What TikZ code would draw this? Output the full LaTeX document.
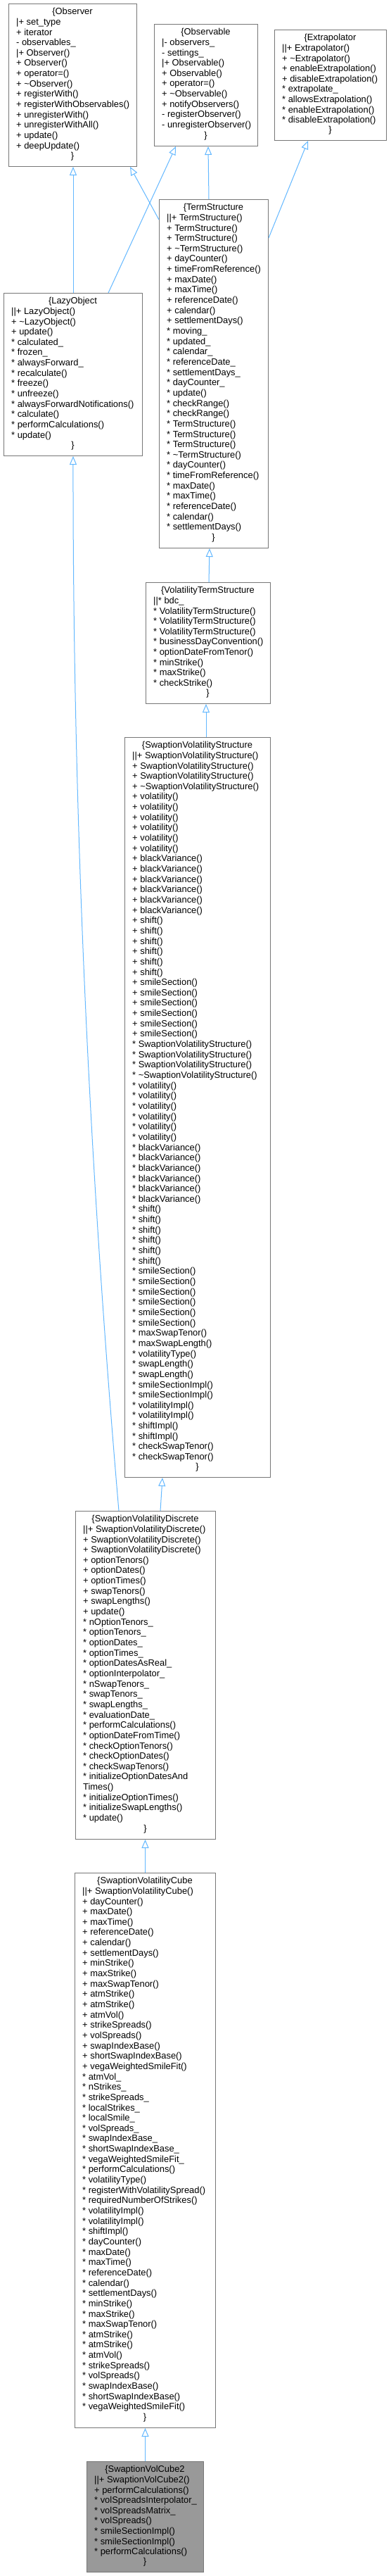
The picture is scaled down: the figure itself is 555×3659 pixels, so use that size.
\documentclass[tikz,border=0pt]{standalone}
\usepackage{fontspec}
\setmainfont{Liberation Sans}
\usetikzlibrary{arrows.meta,calc}
\definecolor{edgeblue}{HTML}{63B8FF}
\definecolor{boxgray}{HTML}{777777}
\definecolor{hlgray}{HTML}{999999}
\newcommand\clsfont{\fontsize{12.9}{14.65}\selectfont}
\newcommand\tld{\textasciitilde{}}
\tikzset{
  cbox/.style={draw=boxgray, line width=1pt, inner sep=0pt, anchor=north west},
  ctitle/.style={anchor=base, inner sep=0pt, font=\clsfont},
  cmem/.style={anchor=north west, inner sep=0pt, align=left, font=\clsfont},
  inh/.style={draw=edgeblue, line width=1pt, -{Triangle[open, length=12pt, width=10pt]}},
}
\newcommand\umlclass[8]{%
  \pgfmathsetmacro\umlw{#4-#2}\pgfmathsetmacro\umlh{#5-#3}%
  \pgfmathsetmacro\umlcx{(#2+#4)/2}%
  \node[cbox, fill=#6, minimum width=\umlw pt, minimum height=\umlh pt] (#1) at (#2,#3) {};
  \node[ctitle] (#1-title) at (\umlcx,#3+15.5) {\{#7};
  \node[cmem] (#1-members) at (#2+11,#3+19.15) {\rule{0pt}{11pt}#8};
  \node[ctitle] (#1-end) at (\umlcx,#5-10.35) {\}};
}
\begin{document}
\begin{tikzpicture}[x=1pt, y=-1pt]
\fill[white] (0,0) rectangle (555,3659);
\useasboundingbox (0,0) rectangle (555,3659);

\umlclass{observer}{12}{5}{194}{236}{white}{Observer}{%
|+ set\_type\\
+ iterator\\
- observables\_\\
|+ Observer()\\
+ Observer()\\
+ operator=()\\
+ \tld Observer()\\
+ registerWith()\\
+ registerWithObservables()\\
+ unregisterWith()\\
+ unregisterWithAll()\\
+ update()\\
+ deepUpdate()}

\umlclass{observable}{219}{34}{366}{207}{white}{Observable}{%
|- observers\_\\
- settings\_\\
|+ Observable()\\
+ Observable()\\
+ operator=()\\
+ \tld Observable()\\
+ notifyObservers()\\
- registerObserver()\\
- unregisterObserver()}

\umlclass{extrapolator}{390}{42}{549}{199}{white}{Extrapolator}{%
||+ Extrapolator()\\
+ \tld Extrapolator()\\
+ enableExtrapolation()\\
+ disableExtrapolation()\\
{*} extrapolate\_\\
{*} allowsExtrapolation()\\
{*} enableExtrapolation()\\
{*} disableExtrapolation()}

\umlclass{ts}{226}{283}{381}{778}{white}{TermStructure}{%
||+ TermStructure()\\
+ TermStructure()\\
+ TermStructure()\\
+ \tld TermStructure()\\
+ dayCounter()\\
+ timeFromReference()\\
+ maxDate()\\
+ maxTime()\\
+ referenceDate()\\
+ calendar()\\
+ settlementDays()\\
{*} moving\_\\
{*} updated\_\\
{*} calendar\_\\
{*} referenceDate\_\\
{*} settlementDays\_\\
{*} dayCounter\_\\
{*} update()\\
{*} checkRange()\\
{*} checkRange()\\
{*} TermStructure()\\
{*} TermStructure()\\
{*} TermStructure()\\
{*} \tld TermStructure()\\
{*} dayCounter()\\
{*} timeFromReference()\\
{*} maxDate()\\
{*} maxTime()\\
{*} referenceDate()\\
{*} calendar()\\
{*} settlementDays()}

\umlclass{lazy}{5}{416}{202}{647}{white}{LazyObject}{%
||+ LazyObject()\\
+ \tld LazyObject()\\
+ update()\\
{*} calculated\_\\
{*} frozen\_\\
{*} alwaysForward\_\\
{*} recalculate()\\
{*} freeze()\\
{*} unfreeze()\\
{*} alwaysForwardNotifications()\\
{*} calculate()\\
{*} performCalculations()\\
{*} update()}

\umlclass{vts}{207}{827}{384}{999}{white}{VolatilityTermStructure}{%
||{*} bdc\_\\
{*} VolatilityTermStructure()\\
{*} VolatilityTermStructure()\\
{*} VolatilityTermStructure()\\
{*} businessDayConvention()\\
{*} optionDateFromTenor()\\
{*} minStrike()\\
{*} maxStrike()\\
{*} checkStrike()}

\umlclass{svs}{177}{1047}{384}{2098}{white}{SwaptionVolatilityStructure}{%
||+ SwaptionVolatilityStructure()\\
+ SwaptionVolatilityStructure()\\
+ SwaptionVolatilityStructure()\\
+ \tld SwaptionVolatilityStructure()\\
+ volatility()\\
+ volatility()\\
+ volatility()\\
+ volatility()\\
+ volatility()\\
+ volatility()\\
+ blackVariance()\\
+ blackVariance()\\
+ blackVariance()\\
+ blackVariance()\\
+ blackVariance()\\
+ blackVariance()\\
+ shift()\\
+ shift()\\
+ shift()\\
+ shift()\\
+ shift()\\
+ shift()\\
+ smileSection()\\
+ smileSection()\\
+ smileSection()\\
+ smileSection()\\
+ smileSection()\\
+ smileSection()\\
{*} SwaptionVolatilityStructure()\\
{*} SwaptionVolatilityStructure()\\
{*} SwaptionVolatilityStructure()\\
{*} \tld SwaptionVolatilityStructure()\\
{*} volatility()\\
{*} volatility()\\
{*} volatility()\\
{*} volatility()\\
{*} volatility()\\
{*} volatility()\\
{*} blackVariance()\\
{*} blackVariance()\\
{*} blackVariance()\\
{*} blackVariance()\\
{*} blackVariance()\\
{*} blackVariance()\\
{*} shift()\\
{*} shift()\\
{*} shift()\\
{*} shift()\\
{*} shift()\\
{*} shift()\\
{*} smileSection()\\
{*} smileSection()\\
{*} smileSection()\\
{*} smileSection()\\
{*} smileSection()\\
{*} smileSection()\\
{*} maxSwapTenor()\\
{*} maxSwapLength()\\
{*} volatilityType()\\
{*} swapLength()\\
{*} swapLength()\\
{*} smileSectionImpl()\\
{*} smileSectionImpl()\\
{*} volatilityImpl()\\
{*} volatilityImpl()\\
{*} shiftImpl()\\
{*} shiftImpl()\\
{*} checkSwapTenor()\\
{*} checkSwapTenor()}

\umlclass{svd}{107}{2146}{306}{2612}{white}{SwaptionVolatilityDiscrete}{%
||+ SwaptionVolatilityDiscrete()\\
+ SwaptionVolatilityDiscrete()\\
+ SwaptionVolatilityDiscrete()\\
+ optionTenors()\\
+ optionDates()\\
+ optionTimes()\\
+ swapTenors()\\
+ swapLengths()\\
+ update()\\
{*} nOptionTenors\_\\
{*} optionTenors\_\\
{*} optionDates\_\\
{*} optionTimes\_\\
{*} optionDatesAsReal\_\\
{*} optionInterpolator\_\\
{*} nSwapTenors\_\\
{*} swapTenors\_\\
{*} swapLengths\_\\
{*} evaluationDate\_\\
{*} performCalculations()\\
{*} optionDateFromTime()\\
{*} checkOptionTenors()\\
{*} checkOptionDates()\\
{*} checkSwapTenors()\\
{*} initializeOptionDatesAnd\\
Times()\\
{*} initializeOptionTimes()\\
{*} initializeSwapLengths()\\
{*} update()}

\umlclass{svc}{106}{2660}{306}{3448}{white}{SwaptionVolatilityCube}{%
||+ SwaptionVolatilityCube()\\
+ dayCounter()\\
+ maxDate()\\
+ maxTime()\\
+ referenceDate()\\
+ calendar()\\
+ settlementDays()\\
+ minStrike()\\
+ maxStrike()\\
+ maxSwapTenor()\\
+ atmStrike()\\
+ atmStrike()\\
+ atmVol()\\
+ strikeSpreads()\\
+ volSpreads()\\
+ swapIndexBase()\\
+ shortSwapIndexBase()\\
+ vegaWeightedSmileFit()\\
{*} atmVol\_\\
{*} nStrikes\_\\
{*} strikeSpreads\_\\
{*} localStrikes\_\\
{*} localSmile\_\\
{*} volSpreads\_\\
{*} swapIndexBase\_\\
{*} shortSwapIndexBase\_\\
{*} vegaWeightedSmileFit\_\\
{*} performCalculations()\\
{*} volatilityType()\\
{*} registerWithVolatilitySpread()\\
{*} requiredNumberOfStrikes()\\
{*} volatilityImpl()\\
{*} volatilityImpl()\\
{*} shiftImpl()\\
{*} dayCounter()\\
{*} maxDate()\\
{*} maxTime()\\
{*} referenceDate()\\
{*} calendar()\\
{*} settlementDays()\\
{*} minStrike()\\
{*} maxStrike()\\
{*} maxSwapTenor()\\
{*} atmStrike()\\
{*} atmStrike()\\
{*} atmVol()\\
{*} strikeSpreads()\\
{*} volSpreads()\\
{*} swapIndexBase()\\
{*} shortSwapIndexBase()\\
{*} vegaWeightedSmileFit()}

\umlclass{cube2}{123}{3496}{289}{3653}{hlgray}{SwaptionVolCube2}{%
||+ SwaptionVolCube2()\\
+ performCalculations()\\
{*} volSpreadsInterpolator\_\\
{*} volSpreadsMatrix\_\\
{*} volSpreads()\\
{*} smileSectionImpl()\\
{*} smileSectionImpl()\\
{*} performCalculations()}

% inheritance connectors (child -> parent)
\draw[inh] (lazy.north) -- (lazy.north |- observer.south);
\draw[inh] ($(lazy.north west)+(149,0)$) -- ($(observable.south west)+(31,0)$);
\draw[inh] ($(ts.north west)+(0,29)$) -- ($(observer.south west)+(173,0)$);
\draw[inh] ($(ts.north west)+(71,0)$) -- ($(observable.south west)+(77,0)$);
\draw[inh] ($(ts.north east)+(0,55)$) -- ($(extrapolator.south west)+(48,0)$);
\draw[inh] ($(vts.north west)+(90,0)$) -- ($(ts.south west)+(72,0)$);
\draw[inh] ($(svs.north west)+(116,0)$) -- ($(vts.south west)+(86,0)$);
\draw[inh] ($(svd.north west)+(121,0)$) -- ($(svs.south west)+(54,0)$);
\draw[inh] ($(svd.north west)+(62,0)$) .. controls (126,1647) and (103.5,1147) .. (lazy.south);
\draw[inh] (svc.north) -- (svc.north |- svd.south);
\draw[inh] (cube2.north) -- (cube2.north |- svc.south);
\end{tikzpicture}
\end{document}
